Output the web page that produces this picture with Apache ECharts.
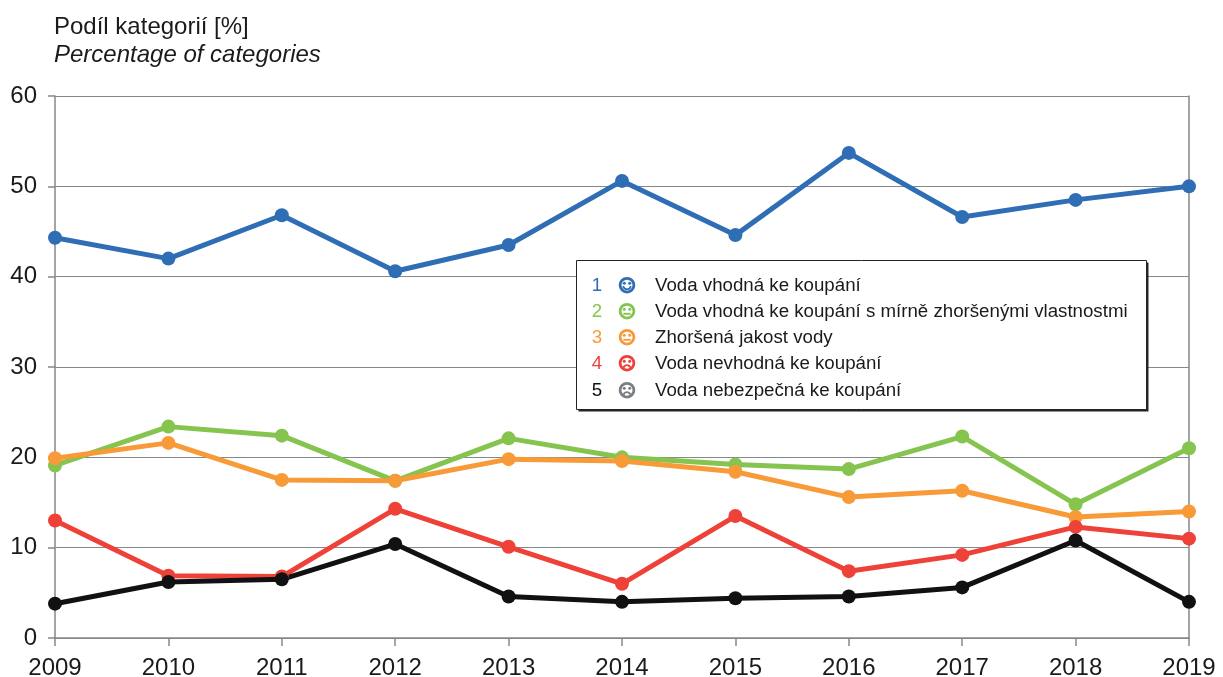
<!DOCTYPE html>
<html>
<head>
<meta charset="UTF-8">
<title>Podíl kategorií</title>
<script src="https://cdn.jsdelivr.net/npm/echarts@6/dist/echarts.min.js"></script>
<style>
html, body { margin: 0; padding: 0; background: #fff; }
#main { width: 1223px; height: 677px; }
</style>
</head>
<body>
<div id="main"></div>
<script>
var years = ['2009','2010','2011','2012','2013','2014','2015','2016','2017','2018','2019'];
var vhodna = [44.3, 42.0, 46.8, 40.6, 43.5, 50.6, 44.6, 53.7, 46.6, 48.5, 50.0];
var mirne = [19.1, 23.4, 22.4, 17.4, 22.1, 20.0, 19.2, 18.7, 22.3, 14.8, 21.0];
var zhorsena = [19.9, 21.6, 17.5, 17.4, 19.8, 19.6, 18.4, 15.6, 16.3, 13.4, 14.0];
var nevhodna = [13.0, 6.9, 6.8, 14.3, 10.1, 6.0, 13.5, 7.4, 9.2, 12.3, 11.0];
var nebezpecna = [3.8, 6.2, 6.5, 10.4, 4.6, 4.0, 4.4, 4.6, 5.6, 10.8, 4.0];
var names = [
  'Voda vhodná ke koupání',
  'Voda vhodná ke koupání s mírně zhoršenými vlastnostmi',
  'Zhoršená jakost vody',
  'Voda nevhodná ke koupání',
  'Voda nebezpečná ke koupání'
];
var colors = ['#2f6db5', '#85c44e', '#f89a38', '#ee4138', '#111114'];
var faceColors = ['#2f6db5', '#85c44e', '#f89a38', '#ee4138', '#7b7f83'];
var numColors = ['#2f6db5', '#85c44e', '#f89a38', '#ee4138', '#111114'];
var moods = ['smile', 'flat', 'flat', 'sad', 'sad'];
var seriesData = [vhodna, mirne, zhorsena, nevhodna, nebezpecna];

var font = '"Liberation Sans", Arial, sans-serif';
var lineGrey = '#85888b';
var textCol = '#1a1a1a';

var chart = echarts.init(document.getElementById('main'));

// legenda je v originale ramecek s cislem, smajlikem a textem
function face(cx, cy, color, mood) {
  var kids = [
    { type: 'circle', shape: { cx: cx, cy: cy, r: 6.9 }, style: { fill: '#fff', stroke: color, lineWidth: 2.8 } },
    { type: 'circle', shape: { cx: cx - 2.7, cy: cy - 2, r: 1.5 }, style: { fill: color } },
    { type: 'circle', shape: { cx: cx + 2.7, cy: cy - 2, r: 1.5 }, style: { fill: color } }
  ];
  if (mood == 'smile') {
    kids.push({ type: 'arc', shape: { cx: cx, cy: cy + 0.2, r: 3.9, startAngle: 0.2, endAngle: Math.PI - 0.2 }, style: { fill: 'none', stroke: color, lineWidth: 1.9 } });
  } else if (mood == 'sad') {
    kids.push({ type: 'arc', shape: { cx: cx, cy: cy + 5.6, r: 3.6, startAngle: Math.PI + 0.3, endAngle: -0.3 }, style: { fill: 'none', stroke: color, lineWidth: 1.9 } });
  } else {
    kids.push({ type: 'line', shape: { x1: cx - 3.6, y1: cy + 2.6, x2: cx + 3.6, y2: cy + 2.6 }, style: { stroke: color, lineWidth: 1.9 } });
  }
  return kids;
}

var legendEls = [
  { type: 'rect', shape: { x: 578.5, y: 262.5, width: 570, height: 149 }, style: { fill: '#222428' }, z: 10 },
  { type: 'rect', shape: { x: 576.5, y: 260.5, width: 570, height: 149 }, style: { fill: '#fff', stroke: '#222428', lineWidth: 1 }, z: 11 }
];
var rowY = [286, 312, 338, 364, 391];
for (var i = 0; i < names.length; i++) {
  legendEls.push({ type: 'text', z: 12, style: { x: 597, y: rowY[i], text: String(i + 1), fill: numColors[i], font: '18.7px ' + font, align: 'center', verticalAlign: 'middle' } });
  legendEls.push({ type: 'text', z: 12, style: { x: 655, y: rowY[i], text: names[i], fill: textCol, font: '18.7px ' + font, align: 'left', verticalAlign: 'middle' } });
  legendEls.push({ type: 'group', z: 12, children: face(627, rowY[i] - 0.8, faceColors[i], moods[i]).map(function (k) { k.z = 12; return k; }) });
}

var series = [];
for (var s = 0; s < names.length; s++) {
  series.push({
    name: names[s],
    type: 'line',
    data: seriesData[s],
    symbol: 'circle',
    symbolSize: 14,
    showSymbol: true,
    clip: false,
    animation: false,
    lineStyle: { color: colors[s], width: 5 },
    itemStyle: { color: colors[s] }
  });
}

var option = {
  backgroundColor: '#fff',
  animation: false,
  title: {
    left: 54,
    top: 15,
    padding: 0,
    text: 'Podíl kategorií [%]',
    subtext: 'Percentage of categories',
    itemGap: 4,
    textStyle: { fontFamily: font, fontSize: 24, fontWeight: 'normal', color: textCol },
    subtextStyle: { fontFamily: font, fontSize: 24, fontStyle: 'italic', color: textCol }
  },
  grid: { left: 55, right: 34, top: 96, bottom: 39, containLabel: false, outerBoundsMode: 'none' },
  xAxis: {
    type: 'category',
    data: years,
    boundaryGap: false,
    axisLine: { show: true, lineStyle: { color: lineGrey, width: 1.5 } },
    axisTick: { show: true, length: 8, alignWithLabel: true, lineStyle: { color: lineGrey, width: 1.5 } },
    axisLabel: { fontFamily: font, fontSize: 24, color: textCol, margin: 18, interval: 0, showMinLabel: true, showMaxLabel: true, hideOverlap: false }
  },
  yAxis: [{
    type: 'value',
    min: 0,
    max: 60,
    interval: 10,
    axisLine: { show: true, lineStyle: { color: lineGrey, width: 1.5 } },
    axisTick: { show: true, length: 7, lineStyle: { color: lineGrey, width: 1.5 } },
    splitLine: { show: true, lineStyle: { color: lineGrey, width: 1.2 } },
    axisLabel: { fontFamily: font, fontSize: 24, color: textCol, margin: 18, padding: [3, 0, 0, 0] }
  }, {
    type: 'value',
    position: 'right',
    min: 0,
    max: 60,
    interval: 10,
    axisLine: { show: true, lineStyle: { color: lineGrey, width: 1.5 } },
    axisTick: { show: false },
    splitLine: { show: false },
    axisLabel: { show: false }
  }],
  graphic: { elements: legendEls },
  series: series
};
chart.setOption(option);
</script>
</body>
</html>
